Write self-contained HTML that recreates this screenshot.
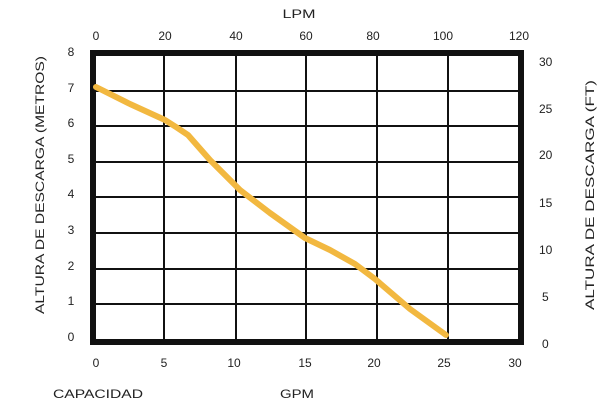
<!DOCTYPE html>
<html><head><style>
html,body{margin:0;padding:0;background:#fff;}
svg{display:block;font-family:"Liberation Sans",sans-serif;}
text{fill:#222;font-size:12px;}
</style></head><body>
<svg width="600" height="403" viewBox="0 0 600 403">
<g stroke="#111" stroke-width="2">
<line x1="164" y1="53" x2="164" y2="343"/>
<line x1="236" y1="53" x2="236" y2="343"/>
<line x1="306" y1="53" x2="306" y2="343"/>
<line x1="377" y1="53" x2="377" y2="343"/>
<line x1="448" y1="53" x2="448" y2="343"/>
<line x1="93" y1="91" x2="521" y2="91"/>
<line x1="93" y1="126" x2="521" y2="126"/>
<line x1="93" y1="162" x2="521" y2="162"/>
<line x1="93" y1="197" x2="521" y2="197"/>
<line x1="93" y1="233" x2="521" y2="233"/>
<line x1="93" y1="269" x2="521" y2="269"/>
<line x1="93" y1="304" x2="521" y2="304"/>
</g>
<rect x="93" y="53" width="428" height="289" fill="none" stroke="#111" stroke-width="6"/>
<polyline fill="none" stroke="#f2b840" stroke-width="6" stroke-linejoin="round" stroke-linecap="round"
points="96,87 130,104 165,120 176,127 188,135 210,160 240,190 270,213 305,238 330,250 355,264 375,279 410,309 446,335"/>
<g text-anchor="middle">
<text x="299" y="18" font-size="14" textLength="33" lengthAdjust="spacingAndGlyphs">LPM</text>
<text x="96" y="40">0</text><text x="165" y="40">20</text><text x="236" y="40">40</text>
<text x="306" y="40">60</text><text x="373" y="40">80</text><text x="443" y="40">100</text><text x="519" y="40">120</text>
<text x="96" y="367">0</text><text x="164" y="367">5</text><text x="234" y="367">10</text>
<text x="305" y="367">15</text><text x="374" y="367">20</text><text x="444" y="367">25</text><text x="515" y="367">30</text>
<text x="297" y="398" font-size="14" textLength="34" lengthAdjust="spacingAndGlyphs">GPM</text>
</g>
<text x="53" y="398" font-size="14" textLength="90" lengthAdjust="spacingAndGlyphs">CAPACIDAD</text>
<g text-anchor="middle">
<text x="71" y="56">8</text><text x="71" y="92">7</text><text x="71" y="127">6</text><text x="71" y="163">5</text>
<text x="71" y="198">4</text><text x="71" y="234">3</text><text x="71" y="270">2</text><text x="71" y="305">1</text><text x="71" y="341">0</text>
</g>
<g text-anchor="start">
<text x="539" y="66">30</text><text x="539" y="113">25</text><text x="539" y="159">20</text>
<text x="539" y="207">15</text><text x="539" y="254">10</text><text x="542" y="301">5</text><text x="542" y="348">0</text>
</g>
<text transform="translate(44,185) rotate(-90)" text-anchor="middle" font-size="15" textLength="258" lengthAdjust="spacingAndGlyphs">ALTURA DE DESCARGA (METROS)</text>
<text transform="translate(594,195) rotate(-90)" text-anchor="middle" font-size="15" textLength="230" lengthAdjust="spacingAndGlyphs">ALTURA DE DESCARGA (FT)</text>
</svg>
</body></html>
